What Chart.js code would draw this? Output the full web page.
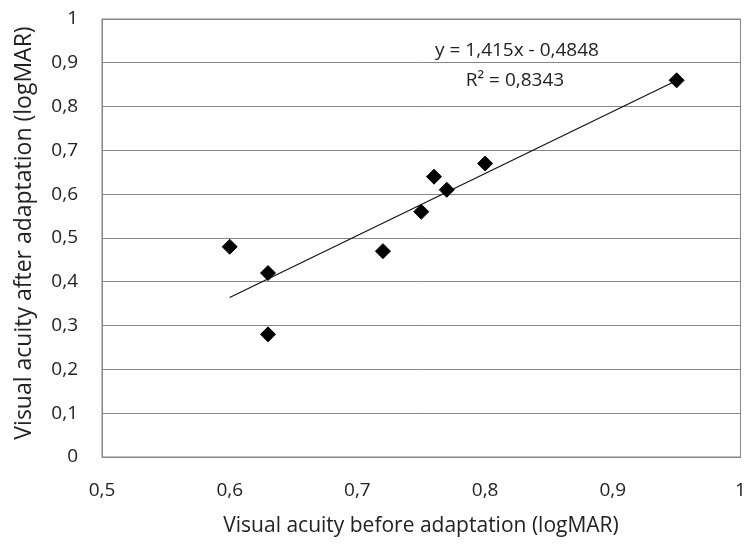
<!DOCTYPE html>
<html>
<head>
<meta charset="utf-8">
<script src="https://cdn.jsdelivr.net/npm/chart.js@4/dist/chart.umd.min.js"></script>
<style>
  html, body { margin: 0; padding: 0; background: #fff; }
  #wrap { width: 749px; height: 544px; }
</style>
</head>
<body>
<div id="wrap"><canvas id="chart" width="749" height="544"></canvas></div>
<script>
// valores
const acuidadeAntes = [0.6, 0.63, 0.63, 0.72, 0.75, 0.76, 0.77, 0.8, 0.95];
const acuidadeDepois = [0.48, 0.42, 0.28, 0.47, 0.56, 0.64, 0.61, 0.67, 0.86];
const tendenciaX = [0.6, 0.95];
const tendenciaY = [0.3642, 0.8594];
const equacao = ['y = 1,415x - 0,4848', 'R² = 0,8343'];
const tituloX = 'Visual acuity before adaptation (logMAR)';
const tituloY = 'Visual acuity after adaptation (logMAR)';

const FONTE = '"Open Sans", sans-serif';
const CINZA = '#878787';
const TEXTO = '#222';

const fmt = (v) => String(Math.round(v * 10) / 10).replace('.', ',');

// equação da tendência e títulos dos eixos
const textosPlugin = {
  id: 'textos',
  afterDraw(chart) {
    const ctx = chart.ctx;
    ctx.save();
    ctx.fillStyle = TEXTO;
    ctx.textAlign = 'center';
    ctx.textBaseline = 'middle';
    ctx.font = '19px ' + FONTE;
    ctx.fillText(equacao[0], 517, 51);
    ctx.fillText(equacao[1], 515, 81);

    ctx.font = '21px ' + FONTE;
    ctx.fillText(tituloX, 421, 526);
    ctx.font = '23px ' + FONTE;
    ctx.translate(24, 233);
    ctx.rotate(-Math.PI / 2);
    ctx.fillText(tituloY, 0, 0);
    ctx.restore();
  },
};

new Chart(document.getElementById('chart'), {
  type: 'scatter',
  data: {
    datasets: [
      {
        label: 'dados',
        data: acuidadeAntes.map((x, i) => ({ x, y: acuidadeDepois[i] })),
        pointStyle: 'rectRot',
        pointRadius: 7.5,
        backgroundColor: '#000',
        borderColor: '#000',
        borderWidth: 1,
      },
      {
        label: 'tendencia',
        type: 'line',
        data: tendenciaX.map((x, i) => ({ x, y: tendenciaY[i] })),
        borderColor: '#111',
        borderWidth: 1.2,
        pointRadius: 0,
        fill: false,
      },
    ],
  },
  options: {
    responsive: false,
    animation: false,
    layout: { padding: { top: 19, right: 8, left: 0, bottom: 0 } },
    plugins: {
      legend: { display: false },
      tooltip: { enabled: false },
    },
    scales: {
      x: {
        type: 'linear',
        min: 0.5,
        max: 1,
        ticks: {
          stepSize: 0.1,
          padding: 22,
          color: TEXTO,
          font: { family: FONTE, size: 19 },
          callback: fmt,
        },
        grid: { display: false, drawTicks: false },
        border: { display: true, color: CINZA, width: 1 },
        afterFit: (s) => {
          s.height = 87;
          s.paddingLeft = 0;
          s.paddingRight = 0;
        },
      },
      y: {
        min: 0,
        max: 1,
        ticks: {
          stepSize: 0.1,
          padding: 24,
          color: TEXTO,
          font: { family: FONTE, size: 19 },
          callback: fmt,
        },
        grid: { color: CINZA, lineWidth: 1, drawTicks: false },
        border: { display: true, color: CINZA, width: 1 },
        afterFit: (s) => {
          s.width = 102;
          s.paddingTop = 0;
          s.paddingBottom = 0;
        },
      },
    },
  },
  plugins: [
    textosPlugin,
    {
      id: 'moldura',
      beforeDatasetsDraw(chart) {
        const { ctx, chartArea: a } = chart;
        ctx.save();
        ctx.strokeStyle = CINZA;
        ctx.lineWidth = 1;
        ctx.strokeRect(a.left, a.top, a.right - a.left, a.bottom - a.top);
        ctx.restore();
      },
    },
  ],
});
</script>
</body>
</html>
